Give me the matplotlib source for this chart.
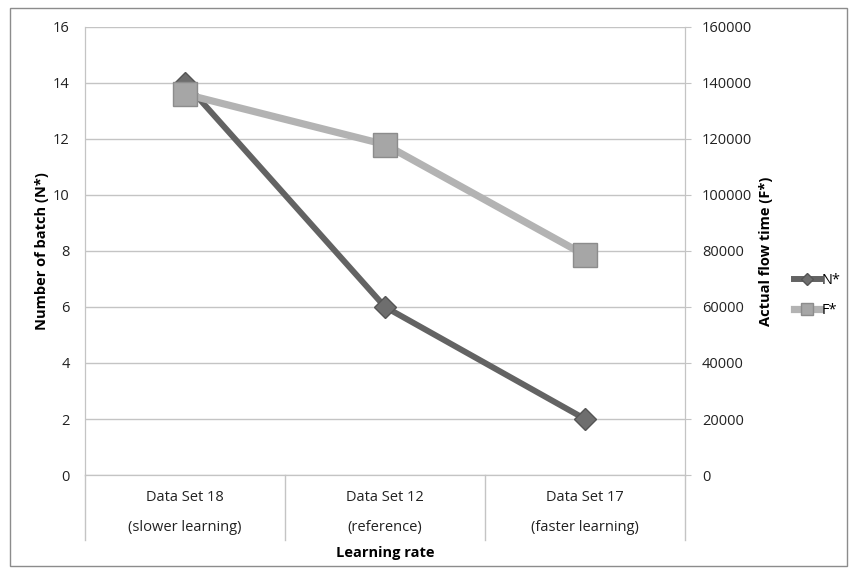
import matplotlib.pyplot as plt
from matplotlib.patches import Rectangle

plt.rcParams['font.family'] = ['Open Sans', 'DejaVu Sans']

# данні з графіка
categories = ['Data Set 18', 'Data Set 12', 'Data Set 17']
subtitles = ['(slower learning)', '(reference)', '(faster learning)']
n_star = [14, 6, 2]
f_star = [136000, 118000, 78500]

fig = plt.figure(figsize=(8.5, 5.76), dpi=100)
ax = fig.add_axes([0.1, 0.1753, 0.706, 0.778])
ax2 = ax.twinx()

x = [0, 1, 2]
grid_c = '#c4c4c4'
fs = 10.5

l1, = ax.plot(x, n_star, color='#636363', lw=4.3, marker='D', ms=11,
              mfc='#6e6e6e', mec='#555555', zorder=3, label='N*')
l2, = ax2.plot(x, f_star, color='#b3b3b3', lw=5.2, marker='s', ms=17,
               mfc='#a6a6a6', mec='#8c8c8c', zorder=4, label='F*')

ax.set_xlim(-0.5, 2.5)
ax.set_ylim(0, 16)
ax.set_yticks(range(0, 17, 2))
ax2.set_ylim(0, 160000)
ax2.set_yticks(range(0, 160001, 20000))

ax.yaxis.grid(True, color=grid_c, lw=1)
ax.set_axisbelow(True)
ax.set_xticks([])

for a in (ax, ax2):
    a.spines['top'].set_visible(False)
    for s in ('left', 'right', 'bottom'):
        a.spines[s].set_color(grid_c)
    a.tick_params(axis='y', colors=grid_c, labelcolor='#222222', labelsize=fs, length=4)
ax.tick_params(axis='y', length=0, pad=11)
ax2.tick_params(axis='y', pad=8)

ax.set_ylabel('Number of batch (N*)', fontsize=fs, fontweight='bold', labelpad=3)
ax2.set_ylabel('Actual flow time (F*)', fontsize=fs, fontweight='bold', labelpad=5)

# підписи категорій і роздільники
for i in range(3):
    ax.text(i, -0.05, categories[i], transform=ax.get_xaxis_transform(),
            ha='center', va='center', fontsize=fs, color='#222222')
    ax.text(i, -0.116, subtitles[i], transform=ax.get_xaxis_transform(),
            ha='center', va='center', fontsize=fs, color='#222222')
for b in [-0.5, 0.5, 1.5, 2.5]:
    ax.plot([b, b], [0, -0.145], transform=ax.get_xaxis_transform(),
            color=grid_c, lw=1, clip_on=False)
ax.text(1, -0.174, 'Learning rate', transform=ax.get_xaxis_transform(),
        ha='center', va='center', fontsize=fs, fontweight='bold')

leg = fig.legend([l1, l2], ['N*', 'F*'], loc='center left',
                 bbox_to_anchor=(0.934, 0.487), frameon=False, fontsize=fs,
                 handlelength=1.8, handletextpad=0.1, labelspacing=1.0,
                 markerscale=0.55, borderpad=0, borderaxespad=0)

fig.patches.append(Rectangle((0.012, 0.017), 0.985, 0.969, transform=fig.transFigure,
                             fill=False, edgecolor='#8c8c8c', lw=1))

fig.savefig('out.png', dpi=100)
